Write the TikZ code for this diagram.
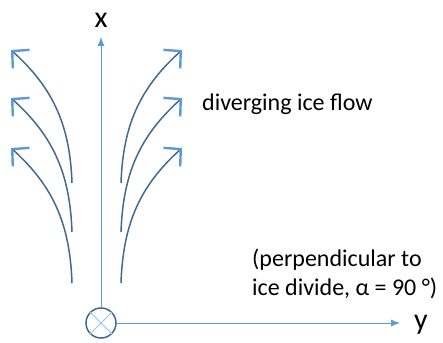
\documentclass[tikz,border=0pt]{standalone}
\usepackage{fontspec}
\setmainfont{Carlito}
\usetikzlibrary{arrows.meta}

\definecolor{flowblue}{HTML}{44698F}
\definecolor{axisblue}{HTML}{5B9BD5}
\definecolor{crossblue}{HTML}{9DC3E6}

\tikzset{
  axis/.style={draw=axisblue, line width=0.9pt, -{Latex[length=9pt,width=7pt]}},
  flow/.style={draw=flowblue, line width=1.5pt,
    -{Straight Barb[length=12pt,width=25pt,line width=2.4pt,color=axisblue]}},
  lbl/.style={font=\fontsize{24}{29}\selectfont, inner sep=0pt},
}

\begin{document}
\begin{tikzpicture}[x=1pt, y=1pt]
    \useasboundingbox (0,0) rectangle (443,342);

    % origin, flow into the page
    \node[circle, draw=flowblue, line width=1.5pt, minimum size=30pt, inner sep=0pt] (o) at (101,19) {};
    \draw[crossblue, line width=0.9pt] (o.north west) -- (o.south east);
    \draw[crossblue, line width=0.9pt] (o.north east) -- (o.south west);

    % axes
    \coordinate (xtip) at (101,305);
    \coordinate (ytip) at (400,19);
    \draw[axis] (o.north) -- (xtip);
    \draw[axis] (o.east) -- (ytip);
    \node[lbl, font=\fontsize{30}{32}\selectfont] (xlbl) at (101,322) {x};
    \node[lbl, font=\fontsize{30}{32}\selectfont] (ylbl) at (421,17) {y};

    % diverging flow lines
    \foreach \yb/\yt in {159/292, 110/244, 59/194} {
        \draw[flow] (72,\yb) to[out=92, in=-42] (11,\yt);
        \draw[flow] (121,\yb) to[out=88, in=222] (182,\yt);
    }

    \node[lbl, anchor=west] (flow) at (202,238) {diverging ice flow};
    \node[lbl, anchor=north west, align=left] (note) at (252,93)
        {(perpendicular to\\ice divide, α = 90 °)};
\end{tikzpicture}
\end{document}
